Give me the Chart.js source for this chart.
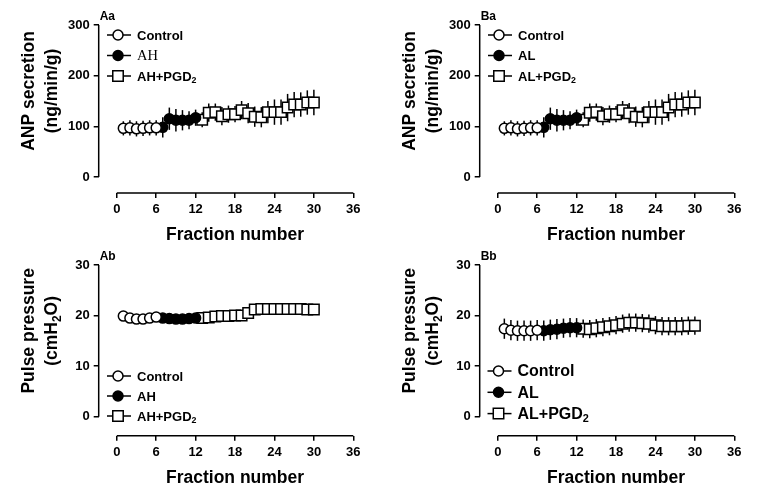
<!DOCTYPE html>
<html>
<head>
<meta charset="utf-8">
<script src="https://cdn.jsdelivr.net/npm/chart.js@4.4.1/dist/chart.umd.min.js"></script>
<style>
    html, body { margin: 0; padding: 0; background: #fff; }
    #wrap { position: relative; width: 759px; height: 494px; overflow: hidden; }
    .panel { position: absolute; width: 379px; height: 247px; }
</style>
</head>
<body>
<div id="wrap">
    <div class="panel" style="left:0;top:0"><canvas id="chartAa" width="379" height="247"></canvas></div>
    <div class="panel" style="left:381px;top:0"><canvas id="chartBa" width="379" height="247"></canvas></div>
    <div class="panel" style="left:0;top:247px"><canvas id="chartAb" width="379" height="247"></canvas></div>
    <div class="panel" style="left:381px;top:247px"><canvas id="chartBb" width="379" height="247"></canvas></div>
</div>
<script>
// ========================================
// DATA
// ========================================
const fracControl = [1, 2, 3, 4, 5, 6];
const fracDrug = [7, 8, 9, 10, 11, 12];
const fracPGD = [13, 14, 15, 16, 17, 18, 19, 20, 21, 22, 23, 24, 25, 26, 27, 28, 29, 30];

const xTicks = [0, 6, 12, 18, 24, 30, 36];
const anpTicks = [0, 100, 200, 300];
const ppTicks = [0, 10, 20, 30];

const anpTitle = ['ANP secretion', '(ng/min/g)'];
const ppTitle = ['Pulse pressure', '(cmH_2O)'];
const xTitle = 'Fraction number';

const legendAH = ['Control', 'AH', 'AH+PGD_2'];
const legendAL = ['Control', 'AL', 'AL+PGD_2'];

// Aa: ANP secretion, AH
const anpAaControl = [96, 97, 95, 96, 97, 97];
const anpAaControlErr = [14, 15, 15, 15, 15, 15];
const anpAaDrug = [98, 115, 112, 112, 112, 117];
const anpAaDrugErr = [20, 22, 22, 20, 18, 16];
const anpAaPGD = [113, 127, 128, 120, 124, 124, 132, 126, 119, 118, 128, 128, 128, 137, 143, 143, 147, 147];
const anpAaPGDErr = [15, 18, 17, 18, 17, 16, 18, 20, 20, 20, 22, 25, 25, 27, 25, 24, 24, 25];

// Ba: ANP secretion, AL
const anpBaControl = [96, 97, 95, 96, 97, 97];
const anpBaControlErr = [14, 15, 15, 15, 15, 15];
const anpBaDrug = [98, 115, 112, 112, 112, 117];
const anpBaDrugErr = [20, 22, 22, 20, 18, 16];
const anpBaPGD = [113, 127, 128, 120, 124, 124, 132, 126, 119, 118, 128, 128, 128, 137, 143, 143, 147, 147];
const anpBaPGDErr = [15, 18, 17, 18, 17, 16, 18, 20, 20, 20, 22, 25, 25, 27, 25, 24, 24, 25];

// Ab: pulse pressure, AH
const ppAbControl = [19.9, 19.5, 19.3, 19.3, 19.5, 19.7];
const ppAbControlErr = [0.4, 0.4, 0.4, 0.4, 0.4, 0.4];
const ppAbDrug = [19.5, 19.4, 19.3, 19.3, 19.4, 19.5];
const ppAbDrugErr = [0.7, 0.7, 0.7, 0.7, 0.7, 0.7];
const ppAbPGD = [19.5, 19.6, 19.8, 19.9, 19.9, 20.0, 20.0, 20.5, 21.2, 21.3, 21.3, 21.3, 21.3, 21.3, 21.3, 21.3, 21.2, 21.2];
const ppAbPGDErr = [1.0, 1.0, 1.0, 1.0, 1.0, 1.0, 1.0, 0.8, 0.6, 0.6, 0.6, 0.6, 0.6, 0.6, 0.6, 0.6, 0.6, 0.6];

// Bb: pulse pressure, AL
const ppBbControl = [17.4, 17.1, 17.0, 17.0, 17.0, 17.1];
const ppBbControlErr = [2.0, 2.0, 2.0, 2.0, 2.0, 2.0];
const ppBbDrug = [17.0, 17.2, 17.3, 17.5, 17.6, 17.6];
const ppBbDrugErr = [2.0, 2.0, 2.0, 1.9, 1.9, 1.9];
const ppBbPGD = [17.4, 17.3, 17.5, 17.7, 17.9, 18.1, 18.4, 18.6, 18.6, 18.5, 18.4, 18.1, 17.9, 17.9, 17.9, 17.9, 18.0, 18.0];
const ppBbPGDErr = [1.8, 1.8, 1.8, 1.8, 1.8, 1.8, 1.8, 1.8, 1.8, 1.8, 1.8, 1.8, 1.8, 1.8, 1.8, 1.8, 1.8, 1.8];

// ========================================
// HELPERS
// ========================================
const FONT = "'Liberation Sans', Arial, sans-serif";
const SERIF = "'Liberation Serif', 'Times New Roman', serif";
const X_MIN = -2.75;

function toPoints(xs, ys) {
    return xs.map((x, i) => ({ x: x, y: ys[i] }));
}

// "AH+PGD_2" -> [['AH+PGD', false], ['2', true]]
function splitSub(text) {
    const parts = [];
    text.split(/_(\w)/).forEach((t, i) => {
        if (t) parts.push([t, i % 2 === 1]);
    });
    return parts;
}

function drawRich(ctx, text, x, y, size, family, weight, align) {
    const parts = splitSub(text);
    const fontFor = (sub) => `${weight} ${sub ? size * 0.68 : size}px ${family}`;
    const widths = parts.map(([t, sub]) => {
        ctx.font = fontFor(sub);
        return ctx.measureText(t).width;
    });
    const total = widths.reduce((a, b) => a + b, 0);
    let cx = align === 'center' ? x - total / 2 : x;
    ctx.textAlign = 'left';
    parts.forEach(([t, sub], i) => {
        ctx.font = fontFor(sub);
        ctx.fillText(t, cx, sub ? y + size * 0.3 : y);
        cx += widths[i];
    });
}

function drawMarker(ctx, style, x, y, r, fill) {
    ctx.beginPath();
    if (style === 'rect') {
        const s = r * Math.SQRT1_2;
        ctx.rect(x - s, y - s, 2 * s, 2 * s);
    } else {
        ctx.arc(x, y, r, 0, Math.PI * 2);
    }
    ctx.fillStyle = fill;
    ctx.fill();
    ctx.stroke();
}

// Prism-like axes, error bars, titles and legend
function prismPlugin(cfg) {
    return {
        id: 'prism',
        beforeDatasetsDraw(chart) {
            const { ctx, chartArea, scales: { x, y } } = chart;
            ctx.save();
            ctx.strokeStyle = '#000';
            ctx.lineWidth = 1.5;
            // axis lines
            ctx.beginPath();
            ctx.moveTo(chartArea.left, y.getPixelForValue(cfg.yTicks[0]));
            ctx.lineTo(chartArea.left, y.getPixelForValue(cfg.yTicks[cfg.yTicks.length - 1]));
            ctx.moveTo(x.getPixelForValue(xTicks[0]), chartArea.bottom);
            ctx.lineTo(x.getPixelForValue(xTicks[xTicks.length - 1]), chartArea.bottom);
            ctx.stroke();
            // error bars
            chart.data.datasets.forEach(ds => {
                ds.data.forEach((p, i) => {
                    const e = ds.errors[i];
                    const px = x.getPixelForValue(p.x);
                    ctx.beginPath();
                    ctx.moveTo(px, y.getPixelForValue(p.y - e));
                    ctx.lineTo(px, y.getPixelForValue(p.y + e));
                    ctx.stroke();
                });
            });
            ctx.restore();
        },
        afterDraw(chart) {
            const { ctx, chartArea, scales: { x, y } } = chart;
            ctx.save();
            ctx.fillStyle = '#000';

            // panel tag
            ctx.textBaseline = 'alphabetic';
            drawRich(ctx, cfg.tag, chartArea.left + 1, chartArea.top - 5, 12, FONT, 'bold', 'left');

            // x title
            drawRich(ctx, xTitle, x.getPixelForValue(18), chartArea.bottom + 47, 17.5, FONT, 'bold', 'center');

            // y title, two rotated lines
            const cy = (y.getPixelForValue(cfg.yTicks[0]) + y.getPixelForValue(cfg.yTicks[cfg.yTicks.length - 1])) / 2 - 10;
            ctx.textBaseline = 'middle';
            [29, 52].forEach((lx, i) => {
                ctx.save();
                ctx.translate(lx, cy);
                ctx.rotate(-Math.PI / 2);
                drawRich(ctx, cfg.yTitle[i], 0, 0, 17.5, FONT, 'bold', 'center');
                ctx.restore();
            });

            // legend
            const lg = cfg.legend;
            ctx.strokeStyle = '#000';
            ctx.lineWidth = 1.5;
            lg.labels.forEach((label, i) => {
                const ds = chart.data.datasets[i];
                const ly = lg.y + i * lg.gap;
                ctx.beginPath();
                ctx.moveTo(lg.x - 11, ly);
                ctx.lineTo(lg.x + 13, ly);
                ctx.stroke();
                drawMarker(ctx, ds.pointStyle, lg.x, ly, ds.pointRadius, ds.pointBackgroundColor);
                ctx.fillStyle = '#000';
                ctx.textBaseline = 'middle';
                if (lg.serif && lg.serif[i]) {
                    drawRich(ctx, label, lg.x + 19, ly + 1, lg.size + 1.5, SERIF, 'normal', 'left');
                } else {
                    drawRich(ctx, label, lg.x + 19, ly + 1, lg.size, FONT, 'bold', 'left');
                }
            });
            ctx.restore();
        }
    };
}

function makeDataset(label, xs, ys, errs, style, fill) {
    return {
        label: label,
        data: toPoints(xs, ys),
        errors: errs,
        borderColor: '#000',
        borderWidth: 1.5,
        pointStyle: style,
        pointRadius: style === 'rect' ? 7.4 : 5,
        pointBorderWidth: 1.5,
        pointBorderColor: '#000',
        pointBackgroundColor: fill,
        tension: 0
    };
}

function makePanel(id, cfg) {
    const tickFont = { family: FONT, size: 13, weight: 'bold' };
    return new Chart(document.getElementById(id), {
        type: 'line',
        data: {
            datasets: [
                makeDataset(cfg.legend.labels[0], fracControl, cfg.control, cfg.controlErr, 'circle', '#fff'),
                makeDataset(cfg.legend.labels[1], fracDrug, cfg.drug, cfg.drugErr, 'circle', '#000'),
                makeDataset(cfg.legend.labels[2], fracPGD, cfg.pgd, cfg.pgdErr, 'rect', '#fff')
            ]
        },
        options: {
            responsive: false,
            animation: false,
            events: [],
            layout: { padding: cfg.padding },
            plugins: { legend: { display: false }, tooltip: { enabled: false } },
            scales: {
                x: {
                    type: 'linear',
                    min: X_MIN,
                    max: 36,
                    afterBuildTicks: s => { s.ticks = xTicks.map(v => ({ value: v })); },
                    afterFit: s => { s.height = 30; },
                    border: { display: false },
                    grid: { drawOnChartArea: false, drawTicks: true, tickLength: 5, color: '#000', lineWidth: 1.5 },
                    ticks: { color: '#000', font: tickFont, padding: 4, autoSkip: false, maxRotation: 0, callback: v => String(v) }
                },
                y: {
                    min: cfg.yMin,
                    max: cfg.yTicks[cfg.yTicks.length - 1],
                    afterBuildTicks: s => { s.ticks = cfg.yTicks.map(v => ({ value: v })); },
                    afterFit: s => { s.width = 40; },
                    border: { display: false },
                    grid: { drawOnChartArea: false, drawTicks: true, tickLength: 5, color: '#000', lineWidth: 1.5 },
                    ticks: { color: '#000', font: tickFont, padding: 4, autoSkip: false, callback: v => String(v) }
                }
            }
        },
        plugins: [prismPlugin(cfg)]
    });
}

// ========================================
// PANELS
// ========================================
const topPadding = { left: 58.7, right: 25.7, top: 25, bottom: 24 };
const bottomPadding = { left: 58.7, right: 25.7, top: 18, bottom: 28.3 };

makePanel('chartAa', {
    tag: 'Aa', yTitle: anpTitle, yTicks: anpTicks, yMin: -31.6, padding: topPadding,
    control: anpAaControl, controlErr: anpAaControlErr,
    drug: anpAaDrug, drugErr: anpAaDrugErr,
    pgd: anpAaPGD, pgdErr: anpAaPGDErr,
    legend: { x: 118, y: 35, gap: 20.5, size: 13, labels: legendAH, serif: [false, true, false] }
});

makePanel('chartBa', {
    tag: 'Ba', yTitle: anpTitle, yTicks: anpTicks, yMin: -31.6, padding: topPadding,
    control: anpBaControl, controlErr: anpBaControlErr,
    drug: anpBaDrug, drugErr: anpBaDrugErr,
    pgd: anpBaPGD, pgdErr: anpBaPGDErr,
    legend: { x: 118, y: 35, gap: 20.5, size: 13, labels: legendAL }
});

makePanel('chartAb', {
    tag: 'Ab', yTitle: ppTitle, yTicks: ppTicks, yMin: -3.76, padding: bottomPadding,
    control: ppAbControl, controlErr: ppAbControlErr,
    drug: ppAbDrug, drugErr: ppAbDrugErr,
    pgd: ppAbPGD, pgdErr: ppAbPGDErr,
    legend: { x: 118, y: 129, gap: 20, size: 13, labels: legendAH }
});

makePanel('chartBb', {
    tag: 'Bb', yTitle: ppTitle, yTicks: ppTicks, yMin: -3.76, padding: bottomPadding,
    control: ppBbControl, controlErr: ppBbControlErr,
    drug: ppBbDrug, drugErr: ppBbDrugErr,
    pgd: ppBbPGD, pgdErr: ppBbPGDErr,
    legend: { x: 117.5, y: 124, gap: 21.3, size: 16, labels: legendAL }
});
</script>
</body>
</html>
